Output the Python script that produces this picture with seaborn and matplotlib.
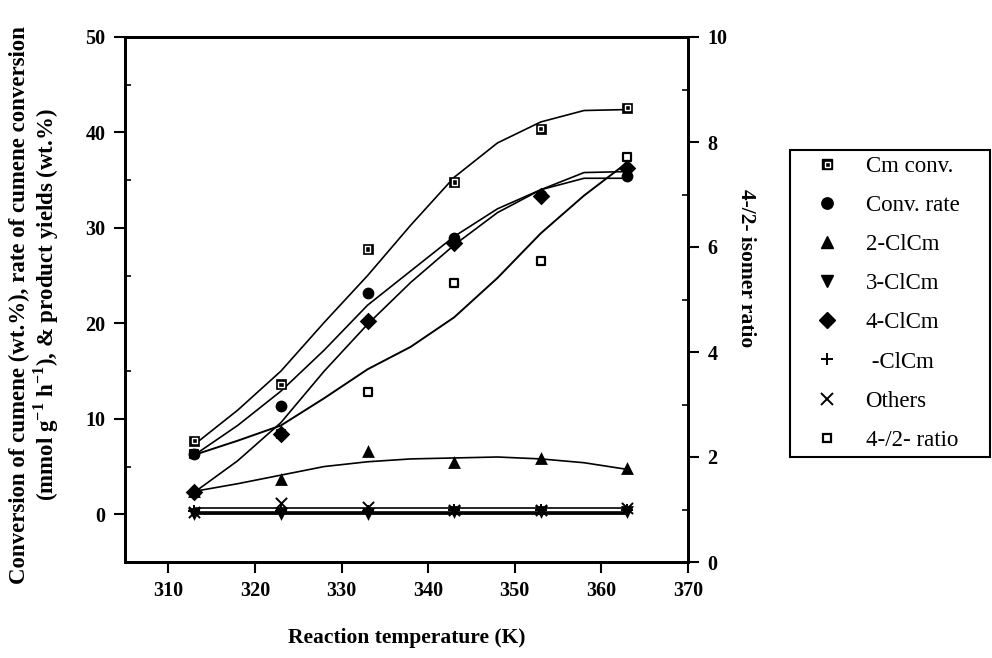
import numpy as np
import pandas as pd
import seaborn as sns
import matplotlib
matplotlib.use('Agg')
from matplotlib import pyplot as plt
from matplotlib.lines import Line2D
from matplotlib.ticker import MultipleLocator

# measured points (left axis, wt.% / rate)
temps = [313, 323, 333, 343, 353, 363]
cm_conv = [7.7, 13.6, 27.8, 34.8, 40.4, 42.6]
conv_rate = [6.3, 11.3, 23.2, 28.9, 33.4, 35.4]
cl2 = [2.4, 3.7, 6.6, 5.5, 5.9, 4.9]
cl3 = [0.0, 0.0, 0.0, 0.2, 0.2, 0.2]
cl4 = [2.3, 8.4, 20.3, 28.4, 33.3, 36.3]
clcm = [0.3, 0.3, 0.3, 0.4, 0.4, 0.5]
others = [0.2, 1.2, 0.8, 0.4, 0.4, 0.7]
# right axis (first two sit under the circle / diamond)
ratio = [2.05, 2.44, 3.24, 5.32, 5.74, 7.72]

# smoothed curves
fit_temps = [313, 318, 323, 328, 333, 338, 343, 348, 353, 358, 363]
cm_fit = [7.3, 10.9, 15.0, 20.1, 25.0, 30.3, 35.3, 38.9, 41.1, 42.3, 42.4]
rate_fit = [6.2, 9.3, 12.9, 17.2, 21.9, 25.5, 29.1, 32.0, 34.0, 35.2, 35.2]
cl4_fit = [2.3, 5.6, 9.6, 15.0, 19.9, 24.3, 28.2, 31.6, 34.0, 35.8, 35.9]
cl2_fit = [2.4, 3.2, 4.1, 5.0, 5.5, 5.8, 5.9, 6.0, 5.8, 5.4, 4.7]
cl3_fit = [0.1, 0.1, 0.1, 0.1, 0.1, 0.1, 0.1, 0.1, 0.1, 0.1, 0.1]
clcm_fit = [0.2, 0.2, 0.2, 0.2, 0.2, 0.2, 0.2, 0.2, 0.2, 0.2, 0.2]
others_fit = [0.7, 0.7, 0.7, 0.7, 0.7, 0.7, 0.7, 0.7, 0.7, 0.7, 0.7]
ratio_fit = [2.04, 2.31, 2.6, 3.12, 3.67, 4.1, 4.66, 5.41, 6.26, 6.98, 7.61]

legend_labels = ['Cm conv.', 'Conv. rate', '2-ClCm', '3-ClCm', '4-ClCm', ' -ClCm', 'Others', '4-/2- ratio']

sns.set_style('ticks')
plt.rcParams['font.family'] = ['Liberation Serif', 'DejaVu Serif']
plt.rcParams['mathtext.fontset'] = 'custom'
plt.rcParams['mathtext.rm'] = 'Liberation Serif:bold'
plt.rcParams['axes.edgecolor'] = 'black'
plt.rcParams['xtick.color'] = 'black'
plt.rcParams['ytick.color'] = 'black'
plt.rcParams['text.color'] = 'black'
plt.rcParams['axes.labelcolor'] = 'black'

fig = plt.figure(figsize=(9.92, 6.58), dpi=100)
ax = fig.add_axes([125 / 992, 1 - 562 / 658, (688 - 125) / 992, (562 - 37) / 658])
ax2 = ax.twinx()
ax.set_zorder(ax2.get_zorder() + 1)
ax.patch.set_visible(False)

# fitted lines
for vals in [cm_fit, rate_fit, cl4_fit, cl2_fit, others_fit, clcm_fit]:
    sns.lineplot(x=fit_temps, y=vals, ax=ax, color='black', linewidth=1.2, errorbar=None, legend=False)
sns.lineplot(x=fit_temps, y=cl3_fit, ax=ax, color='black', linewidth=2.0, errorbar=None, legend=False)
sns.lineplot(x=fit_temps, y=ratio_fit, ax=ax2, color='black', linewidth=1.4, errorbar=None, legend=False)

# points
sns.scatterplot(x=temps, y=cm_conv, ax=ax, marker='s', s=55, color='black', edgecolor='black', linewidth=0.5, zorder=4)
sns.scatterplot(x=temps, y=cm_conv, ax=ax, marker='s', s=14, color='none', edgecolor='white', linewidth=1.0, zorder=5)
sns.scatterplot(x=temps, y=conv_rate, ax=ax, marker='o', s=72, color='black', edgecolor='black', linewidth=0, zorder=4)
sns.scatterplot(x=temps, y=cl2, ax=ax, marker='^', s=85, color='black', edgecolor='black', linewidth=0, zorder=4)
sns.scatterplot(x=temps, y=cl3, ax=ax, marker='v', s=85, color='black', edgecolor='black', linewidth=0, zorder=4)
sns.scatterplot(x=temps, y=cl4, ax=ax, marker='D', s=80, color='black', edgecolor='black', linewidth=0, zorder=4)
sns.scatterplot(x=temps, y=clcm, ax=ax, marker='+', s=70, color='black', linewidth=1.4, zorder=4)
sns.scatterplot(x=temps, y=others, ax=ax, marker='x', s=65, color='black', linewidth=1.4, zorder=4)
sns.scatterplot(x=temps, y=ratio, ax=ax2, marker='s', s=40, color='white', edgecolor='black', linewidth=1.6, zorder=4)

ax.set_xlim(305, 370)
ax.set_ylim(-5, 50)
ax2.set_ylim(0, 10)
ax.set_xticks(range(310, 371, 10))
ax.set_yticks(range(0, 51, 10))
ax2.set_yticks(range(0, 11, 2))
ax.yaxis.set_minor_locator(MultipleLocator(5))
ax2.yaxis.set_minor_locator(MultipleLocator(1))

ax.tick_params(axis='both', which='major', direction='out', length=8, width=1.5, labelsize=14.5, pad=6)
ax.tick_params(axis='y', which='minor', direction='in', length=4, width=1.2)
ax2.tick_params(axis='y', which='major', direction='out', length=8, width=1.5, labelsize=14.5, pad=6)
ax2.tick_params(axis='y', which='minor', direction='in', length=4, width=1.2)
for lbl in ax.get_xticklabels() + ax.get_yticklabels() + ax2.get_yticklabels():
    lbl.set_fontweight('bold')

for sp in ax.spines.values():
    sp.set_linewidth(2)
for sp in ax2.spines.values():
    sp.set_linewidth(2)

ax.set_xlabel('Reaction temperature (K)', fontsize=15.5, fontweight='bold')
ax.xaxis.set_label_coords(0.5, -0.125)
ax.set_ylabel('Conversion of cumene (wt.%), rate of cumene conversion\n'
              '(mmol g$^{-1}$ h$^{-1}$), & product yields (wt.%)',
              fontsize=16.5, fontweight='bold', linespacing=1.1)
ax.yaxis.set_label_coords(-0.113, 0.49)
ax2.set_ylabel('4-/2- isomer ratio', fontsize=15.5, fontweight='bold', rotation=270, va='bottom')
ax2.yaxis.set_label_coords(1.085, 0.56)

# legend
handles = [
    (Line2D([], [], ls='none', marker='s', ms=7.4, mfc='black', mec='black'),
     Line2D([], [], ls='none', marker='s', ms=3.6, mfc='none', mec='white', mew=1.0)),
    Line2D([], [], ls='none', marker='o', ms=8.2, mfc='black', mec='black'),
    Line2D([], [], ls='none', marker='^', ms=9.2, mfc='black', mec='black'),
    Line2D([], [], ls='none', marker='v', ms=9.2, mfc='black', mec='black'),
    Line2D([], [], ls='none', marker='D', ms=7.8, mfc='black', mec='black'),
    Line2D([], [], ls='none', marker='+', ms=8.4, mec='black', mew=1.4),
    Line2D([], [], ls='none', marker='x', ms=8.0, mec='black', mew=1.4),
    Line2D([], [], ls='none', marker='s', ms=6.3, mfc='white', mec='black', mew=1.6),
]
leg = fig.legend(handles, legend_labels, loc='upper left',
                 bbox_to_anchor=(790 / 992, 1 - 453 / 658, 200 / 992, 303 / 658), mode='expand',
                 fontsize=16.5, frameon=True, fancybox=False, edgecolor='black', framealpha=1,
                 labelspacing=0.79, handlelength=2.7, handletextpad=0.35, borderpad=0.25,
                 borderaxespad=0)
leg.get_frame().set_linewidth(1.5)

fig.savefig('out.png', dpi=100)
